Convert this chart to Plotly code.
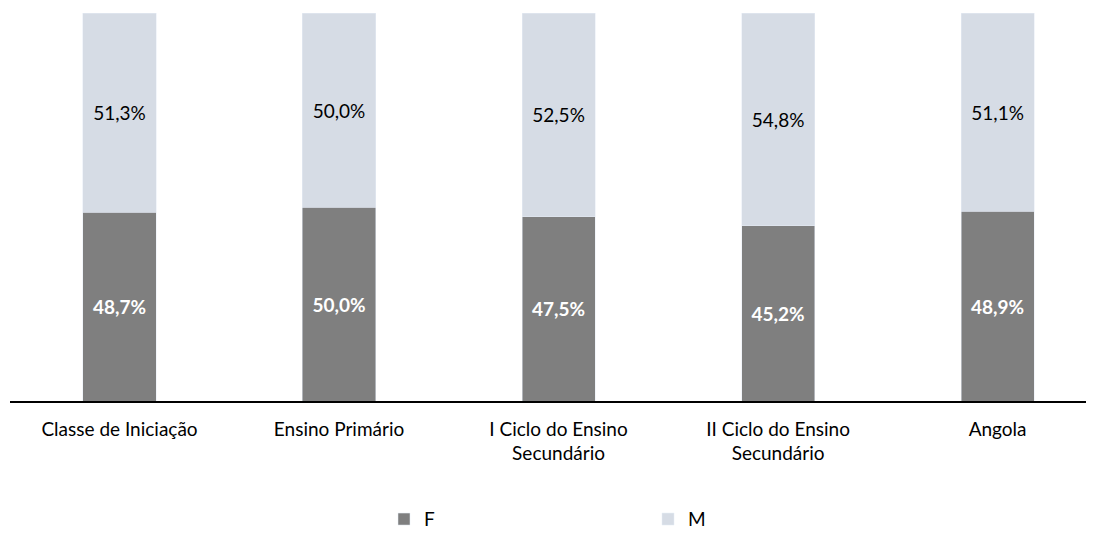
import plotly.graph_objects as go

categories = ["Classe de Iniciação", "Ensino Primário", "I Ciclo do Ensino<br>Secundário",
              "II Ciclo do Ensino<br>Secundário", "Angola"]
f_values = [48.7, 50.0, 47.5, 45.2, 48.9]
m_values = [51.3, 50.0, 52.5, 54.8, 51.1]

def fmt(v):
    return f"{v:.1f}%".replace(".", ",")

x_idx = list(range(len(categories)))
FONT = "Lato"

fig = go.Figure()
fig.add_trace(go.Bar(
    x=x_idx, y=f_values, name="F", marker_color="#7F7F7F", width=0.333,
    text=[fmt(v) for v in f_values], textposition="inside", insidetextanchor="middle",
    textfont=dict(color="white", size=19, family=FONT), texttemplate="<b>%{text}</b>",
    hoverinfo="skip", textangle=0,
))
fig.add_trace(go.Bar(
    x=x_idx, y=m_values, name="M", marker_color="#D6DCE5", width=0.333,
    text=[fmt(v) for v in m_values], textposition="inside", insidetextanchor="middle",
    textfont=dict(color="black", size=19, family=FONT),
    hoverinfo="skip", textangle=0,
))

# figure is offset by the page's 8px body margin, so compensate
fig.update_layout(
    barmode="stack",
    width=1086, height=527,
    margin=dict(l=2, r=4, t=5, b=134),
    plot_bgcolor="white", paper_bgcolor="white",
    font=dict(family=FONT, size=19, color="#000"),
    showlegend=True,
    legend=dict(orientation="h", x=374 / 1080, xanchor="left",
                yref="container", y=0.03, yanchor="middle",
                entrywidth=219, entrywidthmode="pixels", font=dict(size=19),
                itemwidth=30, traceorder="normal"),
)
fig.update_xaxes(
    tickmode="array", tickvals=x_idx, ticktext=categories,
    range=[-0.4989, 4.421], showline=True, linecolor="#000", linewidth=1.5,
    ticks="", showgrid=False, zeroline=False, fixedrange=True,
    ticklabelstandoff=10,
)
fig.update_yaxes(range=[0, 100], visible=False, showgrid=False, zeroline=False)

fig.write_html("out.html")
